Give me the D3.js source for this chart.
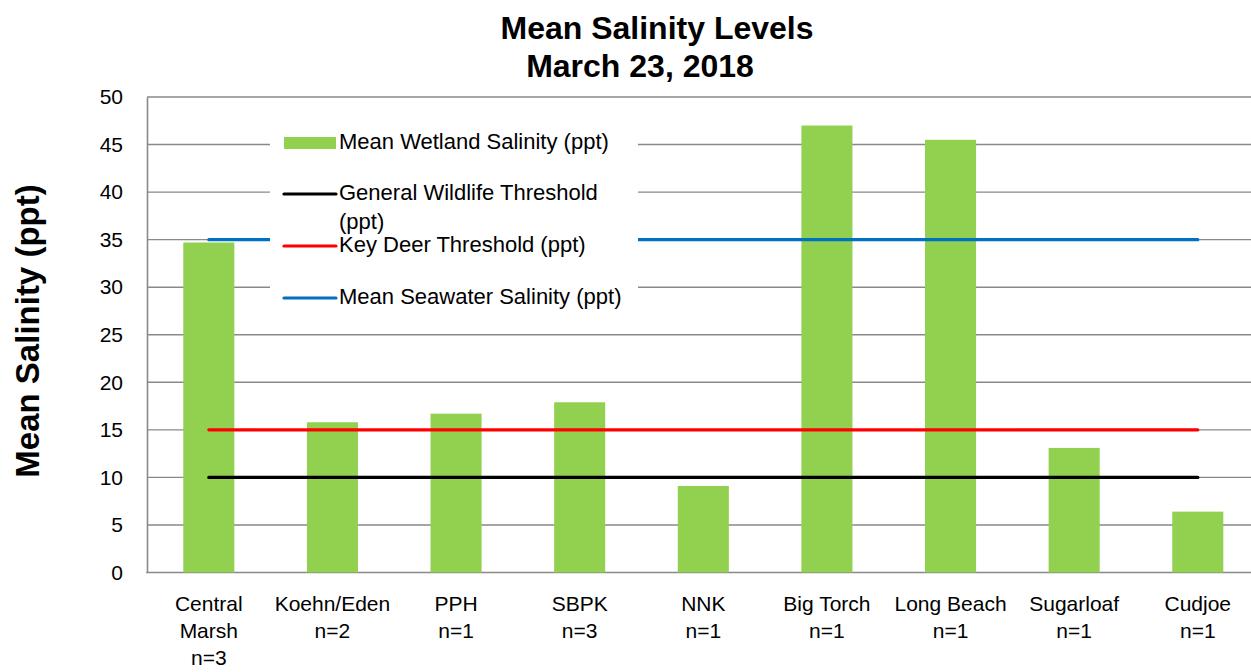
<!DOCTYPE html>
<html>
<head>
<meta charset="utf-8">
<script src="https://cdn.jsdelivr.net/npm/d3@7"></script>
<style>
  html, body { margin: 0; padding: 0; background: #fff; }
  svg { display: block; font-family: "Liberation Sans", Arial, sans-serif; }
</style>
</head>
<body>
<svg id="chart" width="1251" height="672"></svg>
<script>
// ---- data ----
const categories = [["Central", "Marsh", "n=3"], ["Koehn/Eden", "n=2"], ["PPH", "n=1"], ["SBPK", "n=3"], ["NNK", "n=1"], ["Big Torch", "n=1"], ["Long Beach", "n=1"], ["Sugarloaf", "n=1"], ["Cudjoe", "n=1"]];
const sites = ["Central Marsh", "Koehn/Eden", "PPH", "SBPK", "NNK", "Big Torch", "Long Beach", "Sugarloaf", "Cudjoe"];
const meanSalinity = [34.7, 15.8, 16.7, 17.9, 9.1, 47.0, 45.5, 13.1, 6.4];
const generalWildlifeThreshold = 10;
const keyDeerThreshold = 15;
const meanSeawaterSalinity = 35;
const yTicks = [0, 5, 10, 15, 20, 25, 30, 35, 40, 45, 50];
const titleLines = ["Mean Salinity Levels", "March 23, 2018"];
const yTitle = "Mean Salinity (ppt)";
const legendItems = [
  { label: ["Mean Wetland Salinity (ppt)"], type: "bar", color: "#92D050" },
  { label: ["General Wildlife Threshold", "(ppt)"], type: "line", color: "#000000" },
  { label: ["Key Deer Threshold (ppt)"], type: "line", color: "#FF0000" },
  { label: ["Mean Seawater Salinity (ppt)"], type: "line", color: "#0070C0" }
];

// ---- layout ----
const svg = d3.select("#chart");
const plot = { left: 147, right: 1259.6, top: 97, bottom: 572.5 };

const x = d3.scaleBand().domain(sites).range([plot.left, plot.right])
  .paddingInner(0.587).paddingOuter(0.2935);
const y = d3.scaleLinear().domain([0, 50]).range([plot.bottom, plot.top]);

// gridlines
svg.append("g").selectAll("line").data(yTicks.filter(d => d > 0)).join("line")
  .attr("x1", plot.left).attr("x2", plot.right)
  .attr("y1", d => y(d)).attr("y2", d => y(d))
  .attr("stroke", "#898989").attr("stroke-width", 1.4);

// axes lines
const yAxis = d3.axisLeft(y).tickValues(yTicks).tickSize(0).tickPadding(24);
const gy = svg.append("g").attr("transform", `translate(${plot.left},0)`).call(yAxis);
gy.select(".domain").attr("stroke", "#898989").attr("stroke-width", 1.6);
gy.selectAll("text").attr("font-size", 21).attr("fill", "#000")
  .attr("font-family", "'Liberation Sans', Arial, sans-serif");

svg.append("line").attr("x1", plot.left - 0.8).attr("x2", plot.right)
  .attr("y1", plot.bottom).attr("y2", plot.bottom)
  .attr("stroke", "#898989").attr("stroke-width", 1.6);

// bars
svg.append("g").selectAll("rect").data(meanSalinity).join("rect")
  .attr("x", (d, i) => x(sites[i]))
  .attr("width", x.bandwidth())
  .attr("y", d => y(d))
  .attr("height", d => y(0) - y(d))
  .attr("fill", "#92D050");

// threshold lines
const cx = s => x(s) + x.bandwidth() / 2;
[[generalWildlifeThreshold, "#000000"], [keyDeerThreshold, "#FF0000"], [meanSeawaterSalinity, "#0070C0"]]
  .forEach(([v, c]) => {
    svg.append("line")
      .attr("x1", cx(sites[0])).attr("x2", cx(sites[sites.length - 1]))
      .attr("y1", y(v)).attr("y2", y(v))
      .attr("stroke", c).attr("stroke-width", 3.2).attr("stroke-linecap", "round");
  });

// legend
const lg = svg.append("g");
lg.append("rect").attr("x", 270).attr("y", 125).attr("width", 368).attr("height", 190).attr("fill", "#fff");
const rowY = [143, 194, 246, 298];
legendItems.forEach((it, i) => {
  const yy = rowY[i];
  if (it.type === "bar") {
    lg.append("rect").attr("x", 284).attr("y", yy - 6).attr("width", 52).attr("height", 12).attr("fill", it.color);
  } else {
    lg.append("line").attr("x1", 284).attr("x2", 336).attr("y1", yy).attr("y2", yy)
      .attr("stroke", it.color).attr("stroke-width", 3.2).attr("stroke-linecap", "round");
  }
  it.label.forEach((t, j) => {
    lg.append("text").attr("x", 339).attr("y", yy + 6 + j * 29)
      .attr("font-size", 22).attr("fill", "#000").text(t);
  });
});

// x labels
const xl = svg.append("g");
categories.forEach((lines, i) => {
  lines.forEach((t, j) => {
    xl.append("text").attr("x", cx(sites[i])).attr("y", 611 + j * 27)
      .attr("text-anchor", "middle").attr("font-size", 21).attr("fill", "#000").text(t);
  });
});

// title
svg.append("text").attr("x", 657).attr("y", 39).attr("text-anchor", "middle")
  .attr("font-size", 32).attr("font-weight", "bold").text(titleLines[0]);
svg.append("text").attr("x", 640).attr("y", 77).attr("text-anchor", "middle")
  .attr("font-size", 32).attr("font-weight", "bold").text(titleLines[1]);

// y title
svg.append("text").attr("transform", `translate(39,331) rotate(-90)`)
  .attr("text-anchor", "middle").attr("font-size", 33).attr("font-weight", "bold").text(yTitle);
</script>
</body>
</html>
